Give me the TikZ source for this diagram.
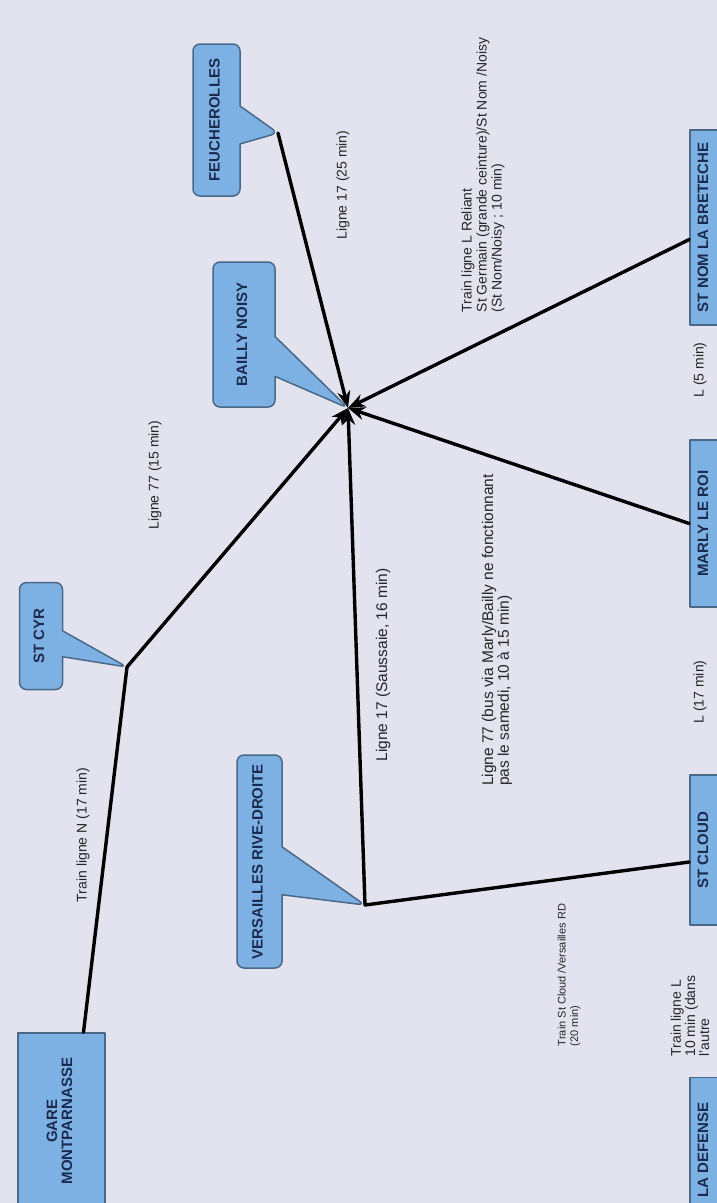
\documentclass[tikz,border=0pt]{standalone}
\usepackage{fontspec}
\setmainfont{Liberation Sans}
\usepackage{tikz}
\usetikzlibrary{positioning}
\usetikzlibrary{calc}
\usetikzlibrary{arrows.meta}
\usetikzlibrary{shapes.callouts}
\usepackage{xcolor}

\definecolor{fond}{HTML}{E2E3EE}
\definecolor{bleu}{HTML}{7DB1E3}
\definecolor{bord}{HTML}{4A6888}
\definecolor{encre}{HTML}{1B2B50}

\newcommand{\vlab}[1]{\rotatebox{90}{\begin{tabular}{@{}c@{}}#1\end{tabular}}}

\tikzset{
	arret/.style={rectangle, draw=bord, fill=bleu, line width=1.5pt, inner sep=0pt, text=encre, font=\fontsize{15}{15}\selectfont\bfseries},
	bulle/.style={rectangle callout, rounded corners=7pt, draw=bord, fill=bleu, line width=1.5pt, inner sep=0pt, text=encre, font=\fontsize{15}{15}\selectfont\bfseries},
	trajet/.style={rotate=90, align=left, inner sep=0pt, text=black!85, font=\fontsize{14}{15}\selectfont},
	ligne/.style={line width=3.4pt, black},
	fleche/.style={ligne, -{Stealth[length=17pt,width=13pt]}}
}

\begin{document}
\begin{tikzpicture}[x=1pt,y=-1pt,line cap=round,line join=round]
	\fill[fond] (0,0) rectangle (717,1203);
	\useasboundingbox (0,0) rectangle (717,1203);
	
	% points de rencontre
	\coordinate (hub) at (348,408);
	\coordinate (cyrtip) at (127,667);
	\coordinate (vertip) at (365,905);
	\coordinate (feutip) at (278,133);
	
	% gares
	\node[arret, minimum width=87pt, minimum height=176pt] (montparnasse) at (61.5,1121) {\vlab{GARE\\MONTPARNASSE}};
	\node[arret, minimum width=30pt, minimum height=195pt] (stnom) at (705,227.5) {\vlab{ST NOM LA BRETECHE}};
	\node[arret, minimum width=30pt, minimum height=167pt] (marly) at (705,523.5) {\vlab{MARLY LE ROI}};
	\node[arret, minimum width=30pt, minimum height=150pt] (stcloud) at (705,850) {\vlab{ST CLOUD}};
	\node[arret, minimum width=30pt, minimum height=145pt] (defense) at (705,1150) {\vlab{LA DEFENSE}};
	
	% bulles
	\node[bulle, minimum width=43pt, minimum height=107pt, callout absolute pointer={(cyrtip)}, callout pointer width=26pt] (stcyr) at (41,636) {\vlab{ST CYR}};
	\node[bulle, minimum width=45pt, minimum height=213pt, callout absolute pointer={(vertip)}, callout pointer width=48pt] (versailles) at (259.5,861.5) {\vlab{VERSAILLES RIVE-DROITE}};
	\node[bulle, minimum width=62pt, minimum height=145pt, callout absolute pointer={(hub)}, callout pointer width=40pt] (bailly) at (244,334.5) {\vlab{BAILLY NOISY}};
	\node[bulle, minimum width=47pt, minimum height=152pt, callout absolute pointer={(feutip)}, callout pointer width=38pt] (feucherolles) at (216.5,120) {\vlab{FEUCHEROLLES}};
	
	% trajets
	\draw[ligne] ([xshift=22pt]montparnasse.north) -- (cyrtip);
	\draw[fleche] (cyrtip) -- (hub);
	\draw[ligne] ([yshift=-12pt]stcloud.west) -- (vertip);
	\draw[fleche] (vertip) -- (hub);
	\draw[fleche] (marly.west) -- (hub);
	\draw[fleche] ([yshift=-12pt]stnom.west) -- (hub);
	\draw[fleche] (feutip) -- (hub);
	
	% temps de parcours
	\node[trajet] (tn) at (83,835) {Train ligne N (17 min)};
	\node[trajet] (l77) at (155,475) {Ligne 77 (15 min)};
	\node[trajet, font=\fontsize{15.5}{15}\selectfont] (l17s) at (383,665) {Ligne 17 (Saussaie, 16 min)};
	\node[trajet, font=\fontsize{15.5}{14.5}\selectfont] (l77b) at (497,630) {Ligne 77 (bus via Marly/Bailly ne fonctionnant\\pas le samedi, 10 à 15 min)};
	\node[trajet, font=\fontsize{11}{12.5}\selectfont] (tsc) at (569,975) {Train St Cloud /Versailles RD\\(20 min)};
	\node[trajet, font=\fontsize{14}{11.5}\selectfont] (tl10) at (690,1016) {Train ligne L\\10 min (dans\\l'autre};
	\node[trajet] (l17m) at (700,692) {L (17 min)};
	\node[trajet] (l5m) at (700,370) {L (5 min)};
	\node[trajet] (l17f) at (343,185) {Ligne 17 (25 min)};
	\node[trajet] (tlr) at (483,175) {Train ligne L Reliant\\St Germain (grande ceinture)/St Nom /Noisy\\(St Nom/Noisy ; 10 min)};
\end{tikzpicture}
\end{document}
